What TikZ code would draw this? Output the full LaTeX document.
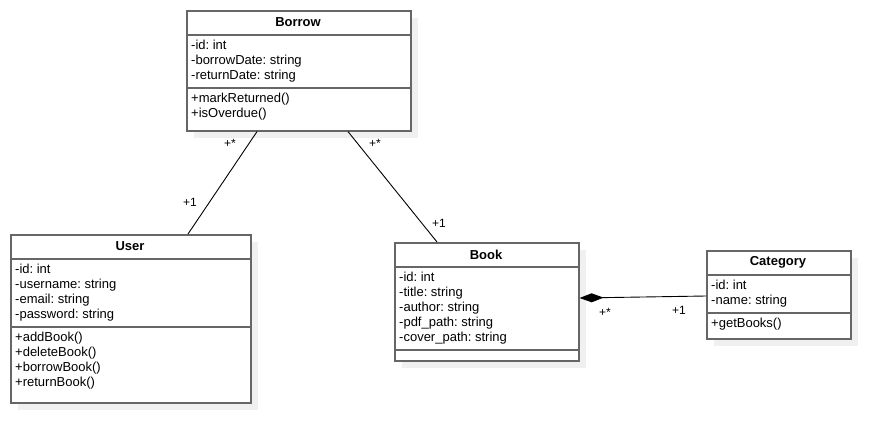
\documentclass[tikz,border=0pt]{standalone}
\usepackage{fontspec}
\setmainfont{Liberation Sans}
\usetikzlibrary{arrows.meta,shadows}
\definecolor{boxgray}{RGB}{102,102,102}
\frenchspacing
\begin{document}
\begin{tikzpicture}
  [
    x=1pt, y=-1pt,
    >=stealth,
    classbox/.style = {draw=boxgray, line width=1.6pt, fill=white, anchor=north west, inner sep=0pt,
                       drop shadow={shadow xshift=7pt, shadow yshift=-7pt, fill=black!6, opacity=1}},
    title/.style    = {font=\fontsize{13}{15}\selectfont\bfseries, inner sep=0pt},
    member/.style   = {font=\fontsize{13}{15}\selectfont, anchor=base west, inner sep=0pt},
    sep/.style      = {draw=boxgray, line width=1.6pt},
    link/.style     = {draw=black, line width=0.9pt},
    mult/.style     = {font=\fontsize{12}{14}\selectfont, inner sep=0pt},
  ]

\useasboundingbox (0,0) rectangle (891,442);

%Line spacing inside the boxes
\def \dy{15}

%Borrow
\node[classbox, minimum width=224pt, minimum height=120pt] (borrow) at (186,10) {};
\node[title] (borrowT) at (298,22.5) {Borrow};
\draw[sep] (186,35) -- (410,35);
\draw[sep] (186,88) -- (410,88);
\foreach [count=\i] \j in {-id: int,-borrowDate: string,-returnDate: string}
{
\node[member] (borrowA\i) at (191,{49.5+(\i-1)*\dy}) {\j};
}
\foreach [count=\i] \j in {+markReturned(),+isOverdue()}
{
\node[member] (borrowM\i) at (191,{102.5+(\i-1)*\dy}) {\j};
}

%User
\node[classbox, minimum width=240pt, minimum height=168pt] (user) at (10,234) {};
\node[title] (userT) at (130,246.5) {User};
\draw[sep] (10,259) -- (250,259);
\draw[sep] (10,327) -- (250,327);
\foreach [count=\i] \j in {-id: int,-username: string,-email: string,-password: string}
{
\node[member] (userA\i) at (15,{273.5+(\i-1)*\dy}) {\j};
}
\foreach [count=\i] \j in {+addBook(),+deleteBook(),+borrowBook(),+returnBook()}
{
\node[member] (userM\i) at (15,{341.5+(\i-1)*\dy}) {\j};
}

%Book
\node[classbox, minimum width=184pt, minimum height=118pt] (book) at (394,242) {};
\node[title] (bookT) at (486,254.5) {Book};
\draw[sep] (394,267) -- (578,267);
\draw[sep] (394,350) -- (578,350);
\foreach [count=\i] \j in {-id: int,-title: string,-author: string,-pdf\_path: string,-cover\_path: string}
{
\node[member] (bookA\i) at (399,{281.5+(\i-1)*\dy}) {\j};
}

%Category
\node[classbox, minimum width=144pt, minimum height=88pt] (category) at (706,250) {};
\node[title] (categoryT) at (778,262.5) {Category};
\draw[sep] (706,275) -- (850,275);
\draw[sep] (706,313) -- (850,313);
\foreach [count=\i] \j in {-id: int,-name: string}
{
\node[member] (categoryA\i) at (711,{289.5+(\i-1)*\dy}) {\j};
}
\node[member] (categoryM1) at (711,327.5) {+getBooks()};

%Ends of the associations
\coordinate (borrowU) at ([xshift=71pt]borrow.south west);
\coordinate (borrowB) at ([xshift=162pt]borrow.south west);
\coordinate (userB)   at ([xshift=178pt]user.north west);
\coordinate (bookB)   at ([xshift=43pt]book.north west);
\coordinate (bookC)   at ([yshift=-56pt]book.north east);
\coordinate (categoryB) at ([yshift=-46pt]category.north west);

\draw[link] (borrowU) -- (userB);
\draw[link] (borrowB) -- (bookB);
\draw[link, {Diamond[length=24pt,width=9pt]}-] (bookC) -- (categoryB);

%Multiplicities
\node[mult] (m1) at (230,143) {+*};
\node[mult] (m2) at (190,202) {+1};
\node[mult] (m3) at (375,143) {+*};
\node[mult] (m4) at (439,223) {+1};
\node[mult] (m5) at (605,312) {+*};
\node[mult] (m6) at (679,310) {+1};
\end{tikzpicture}
\end{document}
